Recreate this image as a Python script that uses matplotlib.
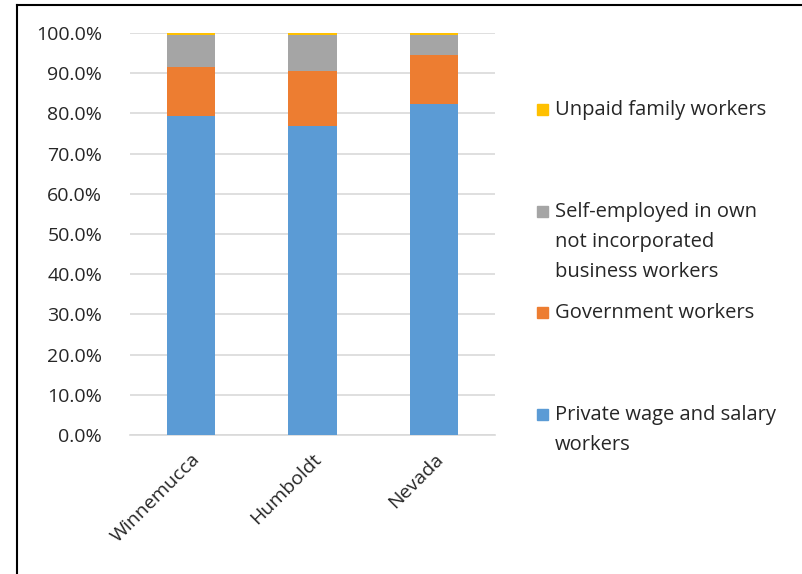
import numpy as np
import matplotlib.pyplot as plt
from matplotlib.lines import Line2D
from matplotlib.ticker import FuncFormatter

plt.rcParams['font.family'] = ['Open Sans', 'DejaVu Sans']

areas = ['Winnemucca', 'Humboldt', 'Nevada']
private_wage = [79.3, 76.8, 82.3]
government = [12.3, 13.8, 12.3]
self_employed = [8.0, 9.0, 5.0]
unpaid_family = [0.4, 0.4, 0.4]

series = [
    ('Private wage and salary\nworkers', private_wage, '#5B9BD5'),
    ('Government workers', government, '#ED7D31'),
    ('Self-employed in own\nnot incorporated\nbusiness workers', self_employed, '#A5A5A5'),
    ('Unpaid family workers', unpaid_family, '#FFC000'),
]

fig = plt.figure(figsize=(8.03, 5.74), dpi=100)
ax = fig.add_axes([130 / 803, 1 - 435 / 574, 365 / 803, 402 / 574])

x = np.arange(len(areas))
bottom = np.zeros(len(areas))
for name, vals, col in series:
    vals = np.array(vals)
    ax.bar(x, vals, 0.4, bottom=bottom, color=col, label=name, zorder=3)
    bottom += vals

ax.set_xlim(-0.5, len(areas) - 0.5)
ax.set_ylim(0, 100)
ax.set_yticks(np.arange(0, 101, 10))
ax.yaxis.set_major_formatter(FuncFormatter(lambda v, p: f'{v:.1f}%'))
ax.grid(axis='y', color='#D9D9D9', linewidth=1.2, zorder=0)
ax.set_xticks(x)
ax.set_xticklabels(areas, rotation=45, ha='right', rotation_mode='anchor')
ax.tick_params(axis='both', length=0, labelsize=14, colors='#262626')
ax.tick_params(axis='y', pad=20)
ax.tick_params(axis='x', pad=11)
for s in ['top', 'right', 'left']:
    ax.spines[s].set_visible(False)
ax.spines['bottom'].set_color('#D9D9D9')
ax.spines['bottom'].set_linewidth(1.2)

# legend entries placed along the right side, top to bottom
legend_y = {0: 415, 1: 313, 2: 212, 3: 110}
for i, (name, vals, col) in enumerate(series):
    yy = 1 - legend_y[i] / 574
    fig.patches.append(plt.Rectangle((537 / 803, yy - 5 / 574), 11 / 803, 11 / 574,
                                     transform=fig.transFigure, color=col))
    fig.text(555 / 803, yy + 10 / 574, name, fontsize=14.5, color='#262626',
             va='top', ha='left', linespacing=1.68)

# frame lines on the top and left edges
fig.add_artist(Line2D([17 / 803, 1], [1 - 5 / 574, 1 - 5 / 574], color='black', lw=1.5))
fig.add_artist(Line2D([17 / 803, 17 / 803], [0, 1 - 5 / 574], color='black', lw=1.5))

fig.savefig('out.png', dpi=100)
